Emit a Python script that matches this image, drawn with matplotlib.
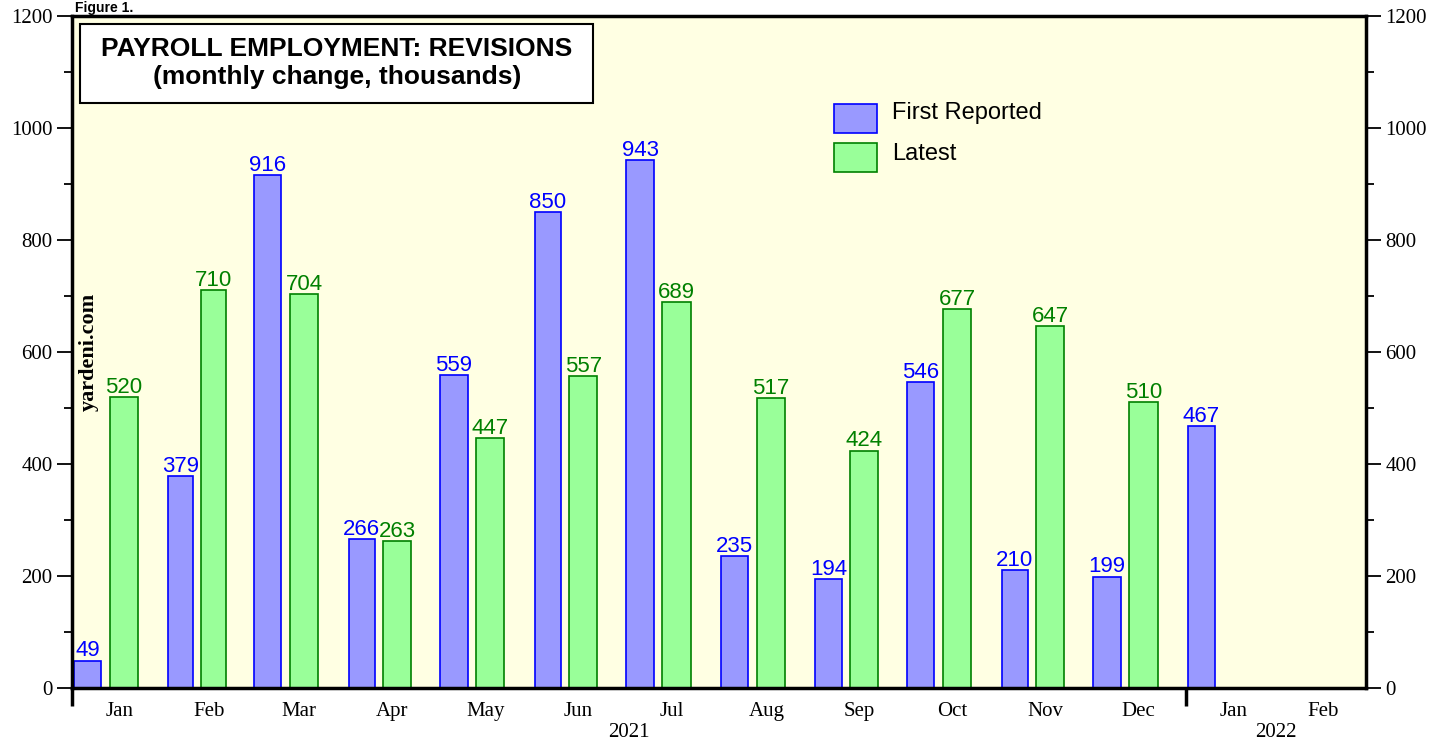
import numpy as np
import matplotlib.pyplot as plt
from matplotlib.patches import Rectangle
from matplotlib.transforms import blended_transform_factory

# monthly change in payrolls, thousands (Jan 2021 .. Feb 2022)
months = ['Jan', 'Feb', 'Mar', 'Apr', 'May', 'Jun', 'Jul', 'Aug', 'Sep', 'Oct', 'Nov', 'Dec', 'Jan', 'Feb']
days_in_month = [31, 28, 31, 30, 31, 30, 31, 31, 30, 31, 30, 31, 31, 28]
years = ['2021', '2022']
first_reported = [49, 379, 916, 266, 559, 850, 943, 235, 194, 546, 210, 199, 467]
latest = [520, 710, 704, 263, 447, 557, 689, 517, 424, 677, 647, 510]

blue_fill, blue_edge = '#9999FF', '#0000FF'
green_fill, green_edge = '#99FF99', '#008000'

plt.rcParams['font.family'] = ['Liberation Sans', 'DejaVu Sans']

# day offsets of each month start
dl = np.array(days_in_month, dtype=float)
starts = np.concatenate([[0], np.cumsum(dl)[:-1]])
centers = starts + dl / 2
total = dl.sum()

fig = plt.figure(figsize=(14.48, 7.44), dpi=100)
ax = fig.add_axes([72 / 1448, 1 - 688 / 744, 1294 / 1448, 672 / 744])
ax.set_facecolor('#FFFFE3')

n1 = len(first_reported)
n2 = len(latest)
ax.bar(starts[:n1] + 0.02 * dl[:n1], first_reported, width=0.29 * dl[:n1], align='edge',
       color=blue_fill, edgecolor=blue_edge, linewidth=1.2, zorder=2)
ax.bar(starts[:n2] + 0.40 * dl[:n2], latest, width=0.30 * dl[:n2], align='edge',
       color=green_fill, edgecolor=green_edge, linewidth=1.2, zorder=2)

for i, v in enumerate(first_reported):
    ax.annotate(str(v), (starts[i] + 0.165 * dl[i], v), xytext=(0, 3), textcoords='offset points',
                ha='center', va='baseline', fontsize=16, color=blue_edge)
for i, v in enumerate(latest):
    ax.annotate(str(v), (starts[i] + 0.55 * dl[i], v), xytext=(0, 3), textcoords='offset points',
                ha='center', va='baseline', fontsize=16, color=green_edge)

ax.set_xlim(0, total)
ax.set_ylim(0, 1200)

# y axes on both sides
ax.set_yticks(np.arange(0, 1201, 200))
ax.set_yticks(np.arange(100, 1200, 200), minor=True)
ax.tick_params(axis='y', which='major', direction='out', length=11, width=1.3, left=True, right=True,
               labelleft=True, labelright=True, labelsize=15, pad=3)
ax.tick_params(axis='y', which='minor', direction='out', length=6, width=1.3, left=True, right=True)
for lab in ax.get_yticklabels():
    lab.set_fontfamily('Liberation Serif')

# x axis: year boundaries as ticks, month names in the middle
ax.set_xticks([0, 365])
ax.set_xticklabels(['', ''])
ax.set_xticks(centers, minor=True)
ax.set_xticklabels(months, minor=True, fontfamily='Liberation Serif', fontsize=15)
ax.tick_params(axis='x', which='major', direction='out', length=13, width=2.5)
ax.tick_params(axis='x', which='minor', length=0, pad=10)

trans = blended_transform_factory(ax.transData, ax.transAxes)
ax.text(365 / 2, -0.052, years[0], transform=trans, ha='center', va='top',
        fontfamily='Liberation Serif', fontsize=15)
ax.text(365 + (total - 365) / 2, -0.052, years[1], transform=trans, ha='center', va='top',
        fontfamily='Liberation Serif', fontsize=15)

for s in ax.spines.values():
    s.set_linewidth(2.5)
    s.set_zorder(5)

# title box
ax.add_patch(Rectangle((0.006, 0.871), 0.397, 0.117, transform=ax.transAxes,
                       facecolor='white', edgecolor='black', linewidth=1.5, zorder=4))
ax.text(0.2048, 0.951, 'PAYROLL EMPLOYMENT: REVISIONS', transform=ax.transAxes,
        ha='center', va='center', fontsize=19, fontweight='bold', zorder=6)
ax.text(0.2048, 0.909, '(monthly change, thousands)', transform=ax.transAxes,
        ha='center', va='center', fontsize=19, fontweight='bold', zorder=6)

# legend
ax.add_patch(Rectangle((0.589, 0.826), 0.033, 0.043, transform=ax.transAxes,
                       facecolor=blue_fill, edgecolor=blue_edge, linewidth=1.2, zorder=4))
ax.add_patch(Rectangle((0.589, 0.768), 0.033, 0.043, transform=ax.transAxes,
                       facecolor=green_fill, edgecolor=green_edge, linewidth=1.2, zorder=4))
ax.text(0.634, 0.855, 'First Reported', transform=ax.transAxes, ha='left', va='center', fontsize=17)
ax.text(0.634, 0.795, 'Latest', transform=ax.transAxes, ha='left', va='center', fontsize=17)

ax.text(0.013, 0.5, 'yardeni.com', transform=ax.transAxes, rotation=90, ha='center', va='center',
        fontfamily='Liberation Serif', fontweight='bold', fontsize=16)

fig.text(75 / 1448, 1 - 1 / 744, 'Figure 1.', ha='left', va='top', fontsize=10, fontweight='bold')

fig.savefig('out.png', dpi=100)
